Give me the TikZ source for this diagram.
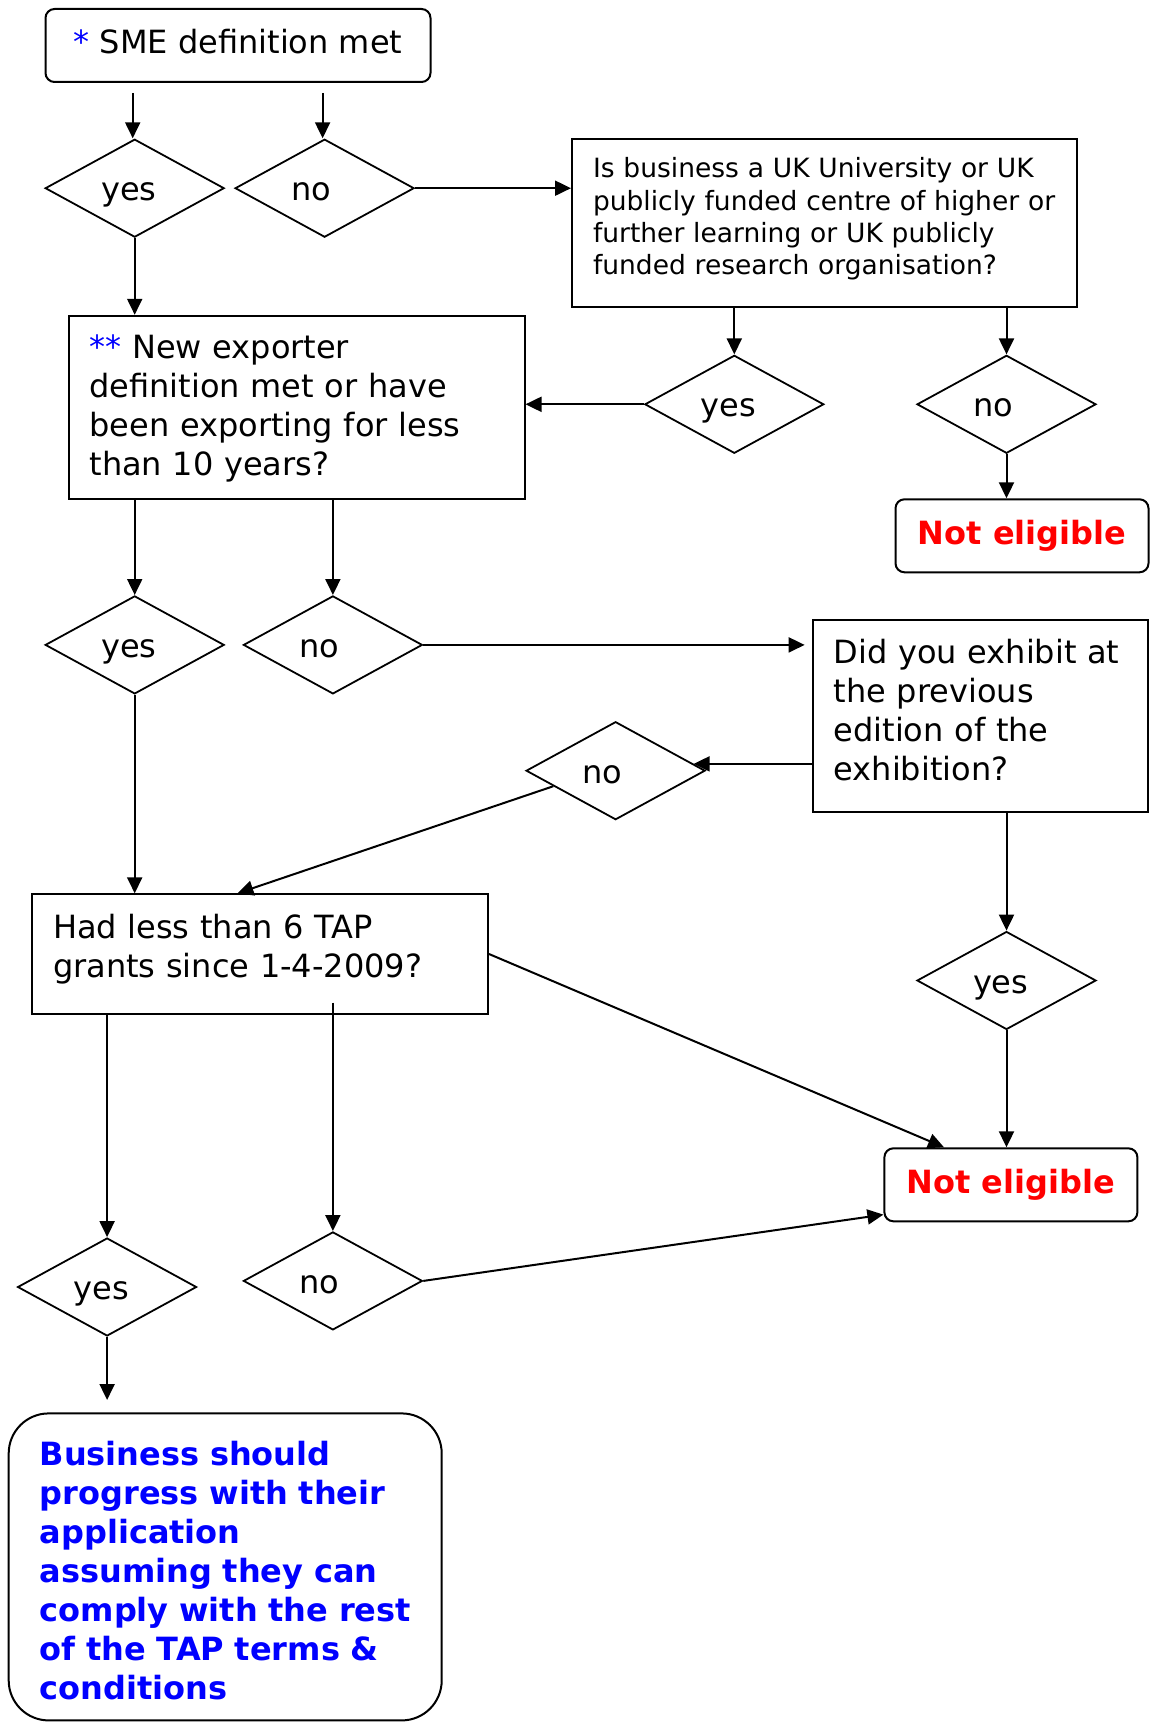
\documentclass[tikz,border=0pt]{standalone}
\usepackage{fontspec}
\setmainfont{DejaVu Sans}
\usetikzlibrary{shapes.geometric,arrows.meta}
\definecolor{ablue}{RGB}{0,0,255}
\definecolor{ared}{RGB}{255,0,0}
\begin{document}
\begin{tikzpicture}[x=1pt,y=-1pt,
  base/.style={line width=2pt, inner sep=0pt, font=\fontsize{32pt}{39pt}\selectfont},
  qbox/.style={base, draw, rectangle, align=left, inner xsep=21pt, text height=0pt},
  rbox/.style={base, draw, rounded corners=9pt},
  nebox/.style={rbox, text=ared, font=\bfseries\fontsize{32pt}{39pt}\selectfont, minimum width=253pt, minimum height=73pt},
  dia/.style={base, line width=1.8pt, draw, diamond, minimum width=179pt, minimum height=98pt,
              text width=67pt, align=left, text height=25pt, text depth=0pt},
  arr/.style={line width=2pt, -{Triangle[length=16pt,width=15pt]}},
  ]
\useasboundingbox (0,0) rectangle (1155,1731);

\node[rbox, minimum width=385pt, minimum height=73pt, text height=24.3pt, text depth=9pt] (sme) at (238,45.5) {\textcolor{ablue}{*} SME definition met};
\node[dia] (y1) at (134.7,188.2) {yes};
\node[dia] (n1) at (324.6,188.2) {no};
\node[qbox, font=\fontsize{26.5pt}{32.3pt}\selectfont, minimum width=504.6pt, minimum height=168pt, text width=462.6pt, text depth=90pt] (isb) at (824.3,223)
  {\mbox{Is business a UK University or UK}\\ \mbox{publicly funded centre of higher or}\\ \mbox{further learning or UK publicly}\\ \mbox{funded research organisation?}};
\node[qbox, minimum width=456pt, minimum height=183.2pt, text width=414pt, text depth=97pt] (nex) at (296.5,407.4)
  {\mbox{\textcolor{ablue}{**} New exporter}\\ \mbox{definition met or have}\\ \mbox{been exporting for less}\\ \mbox{than 10 years?}};
\node[dia] (y2) at (734.3,404.3) {yes};
\node[dia] (n2) at (1006.5,404.3) {no};
\node[nebox] (ne1) at (1022,535.8) {Not eligible};
\node[dia] (y3) at (134.7,644.9) {yes};
\node[dia] (n3) at (332.9,644.9) {no};
\node[qbox, minimum width=335.7pt, minimum height=192pt, text width=293.7pt, text depth=105pt] (exh) at (980.5,715.5)
  {\mbox{Did you exhibit at}\\ \mbox{the previous}\\ \mbox{edition of the}\\ \mbox{exhibition?}};
\node[dia] (n4) at (615.6,770.7) {no};
\node[qbox, minimum width=456pt, minimum height=119.3pt, text width=414pt, text depth=32pt] (hl) at (260,954)
  {\mbox{Had less than 6 TAP}\\ \mbox{grants since 1-4-2009?}};
\node[dia] (y4) at (1006.5,980.5) {yes};
\node[nebox] (ne2) at (1010.9,1184.8) {Not eligible};
\node[dia] (y5) at (107.1,1287) {yes};
\node[dia] (n5) at (332.9,1280.9) {no};
\node[qbox, rounded corners=40pt, text=ablue, font=\bfseries\fontsize{32pt}{39pt}\selectfont, inner xsep=31pt,
      minimum width=433pt, minimum height=307pt, text width=371pt, text depth=203.8pt] (fin) at (225.2,1566.9)
  {\mbox{Business should}\\ \mbox{progress with their}\\ \mbox{application}\\ \mbox{assuming they can}\\ \mbox{comply with the rest}\\ \mbox{of the TAP terms \&}\\ \mbox{conditions}};
\coordinate (yend) at (107.1,1400);

% connectors
\draw[arr, shorten <=10pt] ([xshift=-2pt]sme.south -| y1.north) -- ([xshift=-2pt]y1.north);
\draw[arr, shorten <=10pt] ([xshift=-2pt]sme.south -| n1.north) -- ([xshift=-2pt]n1.north);
\draw[arr] (n1.east) -- (n1.east -| isb.west);
\draw[arr] (y1.south) -- (y1.south |- nex.north);
\draw[arr] (y2.north |- isb.south) -- (y2.north);
\draw[arr] (n2.north |- isb.south) -- (n2.north);
\draw[arr] (y2.west) -- (y2.west -| nex.east);
\draw[arr] (n2.south) -- (n2.south |- ne1.north);
\draw[arr] (y3.north |- nex.south) -- (y3.north);
\draw[arr] (n3.north |- nex.south) -- (n3.north);
\draw[arr, shorten >=7pt] (n3.east) -- (n3.east -| exh.west);
\draw[arr] (n4.5 -| exh.west) -- (n4.5);
\draw[arr] (n4.194) -- ([xshift=-22.6pt]hl.north);
\draw[arr] (y3.south) -- (y3.south |- hl.north);
\draw[arr] (y4.north |- exh.south) -- (y4.north);
\draw[arr] (y4.south) -- (y4.south |- ne2.north);
\draw[arr] (hl.east) -- ([xshift=-66.9pt]ne2.north);
\draw[arr] (y5.north |- hl.south) -- (y5.north);
\draw[arr, shorten <=-12pt] (n5.north |- hl.south) -- (n5.north);
\draw[arr] (n5.east) -- ([yshift=-29.8pt]ne2.west);
\draw[arr] (y5.south) -- (yend);
\end{tikzpicture}
\end{document}
